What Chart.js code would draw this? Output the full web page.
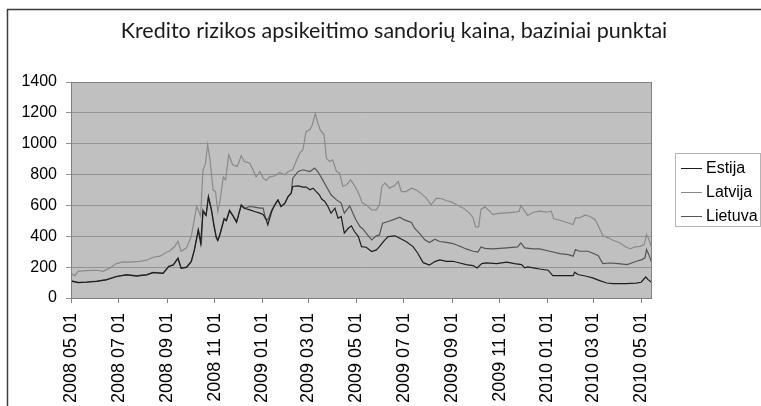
<!DOCTYPE html>
<html>
<head>
<meta charset="utf-8">
<script src="https://cdn.jsdelivr.net/npm/chart.js@4.4.1/dist/chart.umd.min.js"></script>
<style>
  html, body { margin: 0; padding: 0; background: #fff; }
  #wrap { width: 761px; height: 406px; position: relative; }
</style>
</head>
<body>
<div id="wrap"><canvas id="cdsChart"></canvas></div>
<script>
const chartTitle = "Kredito rizikos apsikeitimo sandorių kaina, baziniai punktai";
const seriesNames = ["Estija", "Latvija", "Lietuva"];
const tickLabels = [
  "2008 05 01", "2008 07 01", "2008 09 01", "2008 11 01", "2009 01 01",
  "2009 03 01", "2009 05 01", "2009 07 01", "2009 09 01", "2009 11 01",
  "2010 01 01", "2010 03 01", "2010 05 01"
];

// days counted from 2008 05 01
const estijaDays = [
  0, 9, 20, 33, 45, 58, 71, 84, 97, 105, 118, 125, 131, 137, 141, 148, 154, 158, 163, 166,
  169, 173, 176, 180, 183, 186, 188, 191, 196, 199, 203, 207, 212, 215, 218, 222, 229, 235, 242, 246,
  250, 252, 257, 261, 265, 269, 274, 278, 282, 284, 291, 297, 301, 306, 310, 314, 318, 321, 325, 329,
  333, 338, 342, 346, 350, 355, 359, 363, 368, 372, 378, 385, 391, 395, 400, 406, 415, 421, 429, 438,
  444, 451, 459, 466, 472, 481, 489, 498, 506, 515, 520, 526, 532, 545, 558, 568, 577, 581, 585, 592,
  600, 611, 617, 626, 643, 645, 649, 660, 668, 677, 686, 694, 711, 724, 730, 736, 739, 743
];
const estijaValues = [
  110, 100, 102, 108, 117, 138, 150, 142, 150, 164, 160, 203, 214, 256, 192, 198, 235, 310, 440, 355,
  560, 535, 655, 565, 470, 390, 372, 415, 510, 500, 565, 535, 490, 545, 600, 582, 571, 561, 550, 541,
  508, 474, 560, 604, 636, 593, 615, 658, 680, 723, 727, 719, 719, 701, 712, 690, 669, 641, 626, 593,
  550, 582, 517, 528, 420, 452, 468, 431, 398, 333, 329, 301, 312, 333, 366, 398, 403, 387, 366, 333,
  290, 229, 214, 236, 247, 238, 238, 227, 216, 210, 195, 223, 227, 223, 232, 223, 216, 195, 201, 195,
  188, 180, 145, 145, 145, 167, 152, 141, 130, 113, 97, 93, 93, 97, 102, 136, 119, 104
];

const latvijaDays = [
  0, 5, 9, 20, 33, 41, 50, 58, 67, 75, 88, 97, 105, 114, 122, 126, 133, 137, 141, 148,
  154, 161, 166, 169, 172, 175, 178, 182, 185, 188, 191, 195, 198, 202, 207, 213, 218, 222, 229, 233,
  237, 242, 246, 250, 254, 261, 267, 274, 278, 284, 289, 293, 297, 301, 306, 309, 313, 316, 319, 324,
  327, 331, 335, 340, 344, 348, 353, 358, 361, 366, 370, 373, 378, 385, 391, 395, 398, 402, 408, 414,
  419, 423, 429, 436, 442, 449, 455, 461, 468, 474, 481, 487, 493, 502, 510, 515, 518, 522, 525, 530,
  536, 540, 547, 558, 568, 574, 576, 581, 585, 592, 600, 609, 615, 618, 626, 634, 643, 646, 651, 658,
  664, 671, 675, 681, 688, 694, 703, 709, 716, 722, 729, 734, 737, 740, 743
];
const latvijaValues = [
  158, 145, 173, 177, 180, 173, 195, 223, 234, 232, 238, 245, 264, 271, 297, 303, 335, 368, 303, 325,
  400, 595, 530, 831, 864, 994, 896, 701, 690, 561, 636, 784, 766, 929, 864, 853, 922, 885, 874, 831,
  784, 820, 777, 762, 784, 792, 814, 799, 820, 831, 896, 939, 961, 1080, 1091, 1123, 1195, 1134, 1091, 1058,
  907, 885, 896, 820, 810, 723, 734, 766, 745, 701, 658, 615, 604, 571, 571, 604, 723, 745, 712, 727,
  755, 690, 690, 712, 701, 675, 647, 604, 647, 645, 630, 623, 606, 584, 552, 519, 461, 461, 574, 591,
  563, 541, 548, 552, 556, 563, 600, 563, 535, 556, 563, 556, 563, 513, 504, 491, 476, 519, 519, 537,
  530, 509, 470, 405, 390, 374, 357, 335, 318, 331, 335, 346, 411, 379, 335
];

const lietuvaDays = [
  0, 9, 20, 33, 45, 58, 71, 84, 97, 105, 118, 125, 131, 137, 141, 148, 154, 158, 163, 167,
  169, 173, 176, 180, 183, 186, 188, 191, 196, 199, 203, 207, 212, 215, 218, 222, 229, 235, 242, 246,
  249, 252, 257, 261, 265, 269, 274, 278, 282, 284, 291, 297, 306, 312, 316, 321, 327, 333, 340, 346,
  350, 357, 361, 365, 370, 374, 378, 385, 391, 395, 399, 406, 412, 421, 427, 436, 440, 446, 453, 459,
  466, 472, 481, 489, 498, 506, 515, 521, 525, 530, 540, 558, 572, 576, 581, 592, 600, 613, 626, 637,
  643, 646, 651, 662, 669, 675, 681, 690, 701, 712, 718, 724, 731, 735, 737, 740, 743
];
const lietuvaValues = [
  113, 102, 104, 110, 119, 141, 152, 145, 152, 167, 162, 206, 216, 260, 195, 201, 238, 314, 444, 357,
  571, 539, 658, 571, 474, 398, 377, 420, 517, 506, 571, 539, 496, 550, 604, 582, 593, 589, 582, 582,
  517, 506, 571, 604, 636, 593, 615, 658, 680, 777, 820, 831, 820, 842, 820, 777, 723, 669, 636, 615,
  550, 597, 550, 506, 463, 446, 420, 377, 403, 409, 485, 496, 506, 524, 506, 489, 452, 420, 377, 359,
  381, 366, 361, 353, 335, 318, 303, 297, 331, 322, 318, 325, 331, 357, 325, 318, 318, 303, 288, 281,
  271, 314, 303, 303, 288, 275, 223, 227, 223, 216, 227, 238, 249, 260, 314, 281, 238
];

function dayOf(label) {
  const [y, m, d] = label.split(" ").map(Number);
  return (Date.UTC(y, m - 1, d) - Date.UTC(2008, 4, 1)) / 86400000;
}
const tickDays = tickLabels.map(dayOf);

function points(days, values) {
  return days.map((d, i) => ({ x: d, y: values[i] }));
}

const framePlugin = {
  id: "frame",
  beforeDraw(chart) {
    const { ctx, chartArea: a } = chart;
    ctx.save();
    ctx.fillStyle = "#c0c0c0";
    ctx.fillRect(a.left, a.top, a.right - a.left, a.bottom - a.top);
    ctx.restore();
  },
  afterDraw(chart) {
    const { ctx, chartArea: a } = chart;
    ctx.save();
    // plot border
    ctx.strokeStyle = "#808080";
    ctx.lineWidth = 1;
    ctx.strokeRect(Math.round(a.left) + 0.5, Math.round(a.top) + 0.5,
      Math.round(a.right - a.left) - 1, Math.round(a.bottom - a.top));
    // outer frame (top and left edges visible)
    ctx.strokeStyle = "#3c3c3c";
    ctx.lineWidth = 1.5;
    ctx.beginPath();
    ctx.moveTo(761, 9.5);
    ctx.lineTo(7.5, 9.5);
    ctx.lineTo(7.5, 406);
    ctx.stroke();
    // title
    ctx.fillStyle = "#1a1a1a";
    ctx.font = "21.5px Lato";
    ctx.textAlign = "center";
    ctx.textBaseline = "alphabetic";
    ctx.fillText(chartTitle, 394, 38);
    // legend
    const lx = 675.5, ly = 153.5, lw = 85, lh = 73;
    ctx.strokeStyle = "#b4b4b4";
    ctx.lineWidth = 1;
    ctx.strokeRect(lx, ly, lw, lh);
    ctx.font = "16px 'Liberation Sans'";
    ctx.textAlign = "left";
    ctx.textBaseline = "middle";
    chart.data.datasets.forEach((ds, i) => {
      const y = 168 + i * 24;
      ctx.strokeStyle = ds.borderColor;
      ctx.lineWidth = 1;
      ctx.beginPath();
      ctx.moveTo(681, y + 0.5);
      ctx.lineTo(702, y + 0.5);
      ctx.stroke();
      ctx.fillStyle = "#000";
      ctx.fillText(ds.label, 706, y + 1);
    });
    ctx.restore();
  }
};

const ctx = document.getElementById("cdsChart").getContext("2d");

new Chart(ctx, {
  type: "line",
  data: {
    datasets: [
      { label: seriesNames[0], data: points(estijaDays, estijaValues), borderColor: "#1e1e1e" },
      { label: seriesNames[1], data: points(latvijaDays, latvijaValues), borderColor: "#8a8a8a" },
      { label: seriesNames[2], data: points(lietuvaDays, lietuvaValues), borderColor: "#555555" }
    ]
  },
  options: {
    responsive: true,
    maintainAspectRatio: false,
    animation: false,
    elements: {
      line: { borderWidth: 1.2, tension: 0 },
      point: { radius: 0 }
    },
    layout: { padding: { left: 0, right: 109, top: 82, bottom: 0 } },
    plugins: {
      legend: { display: false },
      title: { display: false },
      tooltip: { enabled: false }
    },
    scales: {
      x: {
        type: "linear",
        min: 0,
        max: 744,
        afterBuildTicks: scale => {
          scale.ticks = tickDays.map(v => ({ value: v }));
        },
        afterFit: scale => { scale.height = 108; },
        ticks: {
          autoSkip: false,
          minRotation: 90,
          maxRotation: 90,
          padding: 10,
          color: "#000",
          font: { family: "'Liberation Sans'", size: 18 },
          callback: value => tickLabels[tickDays.indexOf(value)]
        },
        grid: { drawOnChartArea: false, tickLength: 5, color: "#808080" },
        border: { display: false }
      },
      y: {
        min: 0,
        max: 1400,
        afterFit: scale => { scale.width = 71; },
        ticks: {
          stepSize: 200,
          padding: 9,
          color: "#000",
          font: { family: "'Liberation Sans'", size: 16 },
          callback: value => String(value)
        },
        grid: { color: "#939393", tickLength: 5 },
        border: { display: false }
      }
    }
  },
  plugins: [framePlugin]
});
</script>
</body>
</html>
